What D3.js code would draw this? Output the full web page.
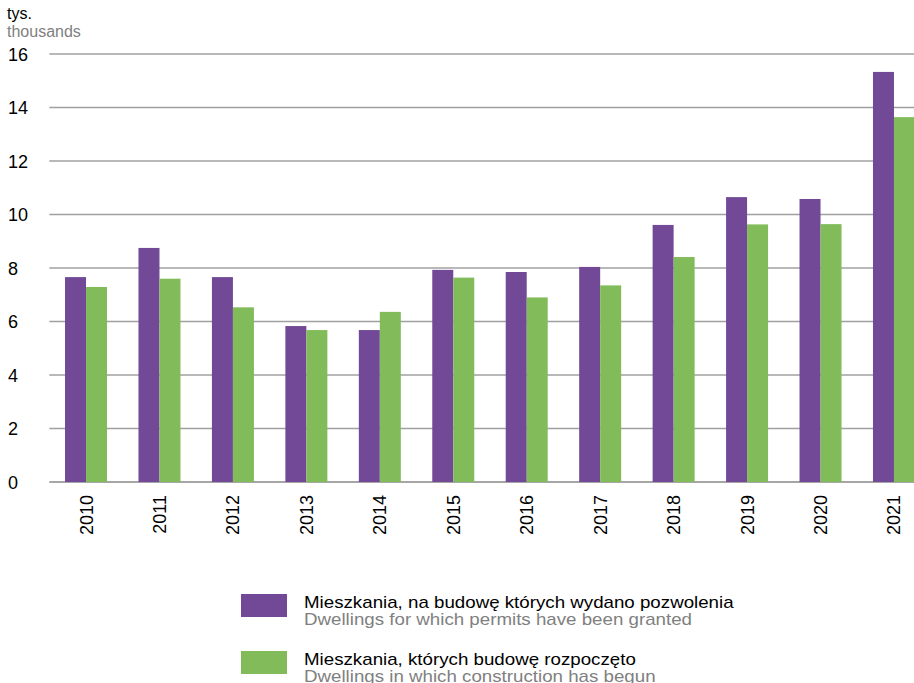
<!DOCTYPE html>
<head>
  <meta charset="utf-8">
  <script src="https://d3js.org/d3.v7.min.js"></script>
  <style>
    body { margin: 0; background: #fff; }
    svg { font-family: "Liberation Sans", Arial, sans-serif; display: block; }
    .ytick { font-size: 18px; fill: #000; }
    .leg-pl { font-size: 16px; fill: #000; }
    .leg-en { font-size: 16px; fill: #808080; }
  </style>
</head>
<body>
<script>
  var years = ["2010","2011","2012","2013","2014","2015","2016","2017","2018","2019","2020","2021"];
  var permits = [7.66, 8.75, 7.66, 5.83, 5.68, 7.93, 7.85, 8.04, 9.61, 10.65, 10.58, 15.33];
  var started = [7.29, 7.6, 6.53, 5.68, 6.36, 7.64, 6.9, 7.35, 8.41, 9.63, 9.64, 13.64];
  var yTicks = [0, 2, 4, 6, 8, 10, 12, 14, 16];
  var seriesPl = ["Mieszkania, na budowę których wydano pozwolenia", "Mieszkania, których budowę rozpoczęto"];
  var seriesEn = ["Dwellings for which permits have been granted", "Dwellings in which construction has begun"];
  var colors = ["#714996", "#82bc5a"];

  var width = 914, height = 683;
  var mLeft = 49.3, mRight = 930.7, mTop = 54, mBottom = 482;

  var svg = d3.select("body").append("svg")
      .attr("width", width)
      .attr("height", height);

  var x = d3.scaleBand().domain(years).range([mLeft, mRight]);
  var y = d3.scaleLinear().domain([0, 16]).range([mBottom, mTop]);
  var barW = 21;

  // gridlines
  svg.append("g")
    .selectAll("line").data(yTicks).enter().append("line")
      .attr("x1", mLeft).attr("x2", width)
      .attr("y1", function(d) { return y(d); })
      .attr("y2", function(d) { return y(d); })
      .style("stroke", function(d) { return d === 0 ? "#888" : "#a0a0a0"; })
      .style("stroke-width", 1.5);

  svg.append("g")
    .selectAll("text").data(yTicks).enter().append("text")
      .attr("class", "ytick")
      .attr("x", 8)
      .attr("y", function(d) { return y(d) + 6.5; })
      .text(function(d) { return d; });

  svg.append("text").attr("x", 7).attr("y", 19)
    .style("font-size", "16px").style("fill", "#000").text("tys.");
  svg.append("text").attr("x", 7).attr("y", 37)
    .style("font-size", "16px").style("fill", "#808080").text("thousands");

  // bars
  var groups = [permits, started];
  groups.forEach(function(vals, i) {
    svg.append("g").selectAll("rect").data(vals).enter().append("rect")
      .attr("x", function(d, j) { return x(years[j]) + x.bandwidth() / 2 - barW + i * barW; })
      .attr("y", function(d) { return y(d); })
      .attr("width", barW)
      .attr("height", function(d) { return y(0) - y(d); })
      .attr("fill", colors[i]);
  });

  // x labels
  svg.append("g").selectAll("text").data(years).enter().append("text")
    .attr("transform", function(d) {
      return "translate(" + (x(d) + x.bandwidth() / 2 + 6.5) + "," + 495 + ") rotate(-90)";
    })
    .attr("text-anchor", "end")
    .style("font-size", "18px")
    .text(function(d) { return d; });

  // legend
  var leg = svg.append("g");
  [0, 1].forEach(function(i) {
    var oy = 594 + i * 57;
    leg.append("rect").attr("x", 241).attr("y", oy).attr("width", 46).attr("height", 23).attr("fill", colors[i]);
    var t = leg.append("g").attr("transform", "translate(304," + (oy + 14) + ") scale(1.17,1)");
    t.append("text").attr("class", "leg-pl").attr("x", 0).attr("y", 0).text(seriesPl[i]);
    t.append("text").attr("class", "leg-en").attr("x", 0).attr("y", 17).text(seriesEn[i]);
  });
</script>
</body>
